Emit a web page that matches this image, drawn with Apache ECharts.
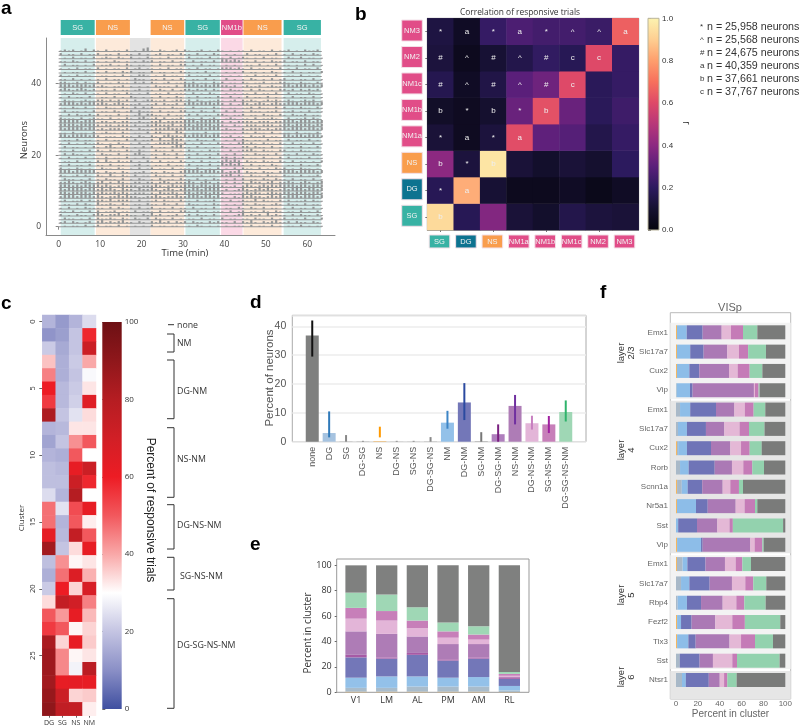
<!DOCTYPE html>
<html><head><meta charset="utf-8">
<style>html,body{margin:0;padding:0;background:#fff}#c{width:800px;height:727px}</style>
<script src="https://cdn.jsdelivr.net/npm/echarts@6/dist/echarts.min.js"></script>
</head><body><div id="c"></div>
<script>
/* ---------- panel a ---------- */
const blockStart=[0.5,9,17.2,22.2,30.6,39.2,44.6,54.3];
const blockEnd=[8.7,17.2,22.2,30.3,38.9,44.4,53.8,63.3];
const blockType=['SG','NS','','NS','SG','NM1b','NS','SG'];
/* estimated activity per minute for each neuron, top row (49) first */
const rasterRows=[
"121201302 10201102 01034 10210120 210120102 10101 1020110201 1201021120",
"201102011 20110201 10201 01201102 110201021 01010 0201101020 1020110210",
"010201102 01210210 20102 10102011 020110201 10201 2101020110 0210201101",
"110210201 10102101 01021 20110201 102011020 33232 1102010211 2011020110",
"020110102 01120102 10110 10201102 201020110 01010 0110201020 1101020201",
"101020110 20101102 01201 10102011 010201101 22212 1020110102 0102011020",
"010110201 10201021 20110 20110102 110102010 01010 2011010210 1020101102",
"201020110 01101020 10221 01020110 020110201 10101 0102011020 0110201010",
"110201010 10201101 02110 11020102 101102010 02010 1021010201 2010110201",
"221120211 20110211 02120 21012011 212011021 20110 2101120112 2110211021",
"333233323 12101120 10101 02111020 333323233 22120 1211201211 3323332323",
"232123212 01102011 01201 10210201 221212021 10211 1020210102 2120212120",
"010210201 10201102 10102 01102011 102010210 01010 1102011020 0201102101",
"102011020 01102010 21010 10201021 010201102 10201 0201102010 1020110201",
"021101211 22121212 02012 21120122 120210112 10120 2121012121 1210121201",
"233323233 23212321 11201 12021120 233233323 20201 3212321232 2333233323",
"110210201 10211021 02021 20110211 102011021 10110 1120211020 2010211021",
"020110102 01102101 20211 10201102 201021020 02020 1021101120 1120102011",
"102021121 20110201 01302 21102011 120201102 21011 2011021102 1021120110",
"211102012 11020102 10231 12020112 011020120 01210 1102011210 0201120210",
"333332333 12212122 11211 22312222 333233333 20212 2221222122 3332333233",
"333323333 21221222 12112 23222312 332333323 21021 1222122212 3323333233",
"323333233 12122212 10211 12223222 323332333 12110 2122212122 3233323323",
"110201102 01211021 01102 02211032 101102011 11010 2102110201 1102011020",
"332333323 20111021 10210 21023221 323333233 11201 1021120110 3323323332",
"011020110 10201102 02011 20311322 010211020 01020 2101102011 0201102010",
"102010211 21010210 10201 01222331 201020102 10102 3121021102 1020110201",
"020110102 10231021 01020 20110233 110201010 21010 2202110201 0110201020",
"110201020 21021102 10210 02110201 021010211 10201 2231021102 2010211010",
"020211011 02110201 02310 11021020 110201102 01020 1102111020 1102010211",
"102010201 10201102 01021 02011020 020110210 22121 2011020102 0201102011",
"011020110 20310211 20102 10201102 101020101 23232 0211021102 1020110102",
"102011020 11020110 01201 01102011 020110201 32323 1020110210 0110201020",
"201021010 02110210 10201 20110201 110210102 01020 2110201021 2010211010",
"333233333 10211021 01120 11021102 333323332 31223 0211021102 3332333323",
"210120210 21031021 02011 02110201 201120110 22312 1021102110 2110201120",
"021101020 10211020 10210 10201102 110201021 01020 2011021021 1020110201",
"223212321 23121321 12212 21232122 232123212 12021 2132212312 2321232123",
"333232333 32321232 22122 23212322 333233233 21120 2321232323 3332332333",
"323333233 23232132 21322 32123212 323323333 12012 3212323212 3233323323",
"332333323 23223232 12221 21322321 332333233 20111 2323212322 3323332332",
"233323332 32122323 22112 23212232 233323323 11021 3232212323 2333233323",
"120112021 22131222 10201 12021102 110201120 10201 2113021102 1201120211",
"011020210 31121021 01102 11021020 021101021 01010 2102110121 0211020110",
"102010211 11020210 10201 20110201 102011020 01102 1021020110 1020110201",
"110201020 20112011 02011 10201102 210201011 10201 2011021021 0110201020",
"201021102 32122312 11021 31201120 120211020 01012 3121203121 1020211021",
"021101020 21121021 02102 02110201 011020110 20110 1102110201 2011020102",
"120210120 23121231 10210 21312021 202110212 11020 2131021231 1202110210",
"010110201 20110201 01010 20110110 010210101 01011 1020110201 0110201011"
].map(s=>s.replace(/ /g,''));

/* ---------- panel b ---------- */
const bCats=['SG','DG','NS','NM1a','NM1b','NM1c','NM2','NM3'];
const bMatrix=[ /* bottom row first */
[.93,.18,.38,.12,.09,.16,.13,.12],
[.18,.83,.11,.05,.05,.07,.04,.07],
[.40,.13,.96,.12,.09,.12,.10,.20],
[.12,.06,.13,.61,.31,.29,.16,.22],
[.08,.06,.10,.33,.62,.33,.19,.24],
[.17,.07,.15,.30,.34,.60,.19,.22],
[.13,.05,.11,.16,.21,.18,.60,.22],
[.14,.07,.22,.27,.25,.25,.23,.66]];
const bMarks=[
['b','','','','','','',''],
['*','a','','','','','',''],
['b','*','b','','','','',''],
['*','a','*','a','','','',''],
['b','*','b','*','b','','',''],
['#','^','#','^','#','c','',''],
['#','^','#','^','#','c','c',''],
['*','a','*','a','*','^','^','a']];
const bCounts=['* n = 25,958 neurons','^ n = 25,568 neurons','# n = 24,675 neurons','a n = 40,359 neurons','b n = 37,661 neurons','c n = 37,767 neurons'];
const magma=['#05040c','#15102f','#2c1a5e','#5a1f7a','#8c2981','#b73779','#de4968','#f7705c','#fe9f6d','#fecf92','#fcf3b0'];

/* ---------- panel c ---------- */
const cCols=['DG','SG','NS','NM'];
const cValues=[
[17,12,17,24],[11,13,20,58],[21,15,20,72],[37,16,21,40],[45,16,20,29],
[60,18,21,33],[55,18,22,65],[82,20,25,34],[17,18,33,33],[14,20,43,50],
[17,16,50,30],[19,18,62,72],[19,19,72,58],[24,17,80,30],[47,25,52,62],
[47,17,50,32],[63,18,75,50],[85,20,34,62],[19,43,31,33],[16,47,66,39],
[21,60,35,68],[34,75,70,45],[50,42,62,38],[55,50,31,35],[83,35,62,36],
[86,44,31,33],[86,44,28,78],[85,62,63,62],[88,72,35,36],[90,76,75,32]];
const cScale=['#3f4fa0','#8a8fc6','#c4c4e2','#ffffff','#f9a8a8','#f2585d','#ed1c24','#d11f26','#b51d22','#8f171b','#6d1014'];

/* ---------- panel d ---------- */
const dCats=['none','DG','SG','DG-SG','NS','DG-NS','SG-NS','DG-SG-NS','NM','DG-NM','SG-NM','DG-SG-NM','NS-NM','DG-NS-NM','SG-NS-NM','DG-SG-NS-NM'];
const dMeans=[36.8,3,0.1,0.1,0.2,0.05,0.05,0.1,6.6,13.6,0.2,2.6,12.4,6.4,6,10.3];
const dLow=[29.5,1.5,0,0,1.5,0,0,0,4.5,7.5,0,0,6,4.2,3,7];
const dHigh=[42,10.5,2.3,0.3,5.2,0.3,0.3,1.6,10.7,20.3,3.3,6,16.2,9,8.9,14.3];
const dBarColors=['#7f807f','#a6c3e0','#aaaaaa','#aaaaaa','#f3b760','#aaaaaa','#aaaaaa','#aaaaaa','#93c1e9','#7377b8','#aaaaaa','#af7fbd','#ae7cb6','#e3b5d8','#c77fb9','#9fd7b5'];
const dErrColors=['#111111','#2f79b9','#888888','#888888','#ff9900','#888888','#888888','#888888','#3d85c6','#2b4aa0','#777777','#7a1f80','#7030a0','#c77fc0','#a020a0','#2fb36b'];

/* ---------- panel e ---------- */
const eCats=['V1','LM','AL','PM','AM','RL'];
const eNS=[.5,.5,.5,.5,.5,.2];
const eDG=[3,3,4,4,4,1.3];
const eNM=[8,9,8,7,7.5,3.5];
const eDGNM=[16,14,17,13.5,14.5,5.5];
const eDGSGNM=[2,1,1.5,1,1,.7];
const eNSNM=[18.5,18.5,13,12,10.5,.8];
const eDGNSNM=[10,10.5,6.5,5,3.5,1];
const eSGNSNM=[8.5,7.5,6,5,4,1.5];
const eALL=[12,13,10.5,7,6.5,1.5];
const eNone=[21.5,23,33,45,48,84];
const eColors=['#e8b56a','#a9bccb','#93c1e9','#7377b8','#a75aa5','#ae7cb6','#e3b5d8','#c77fb9','#9fd7b5','#7f807f'];

/* ---------- panel f ---------- */
const fCats=['Emx1','Slc17a7','Cux2','Vip','Emx1','Slc17a7','Cux2','Rorb','Scnn1a','Nr5a1','Sst','Vip','Emx1','Slc17a7','Rbp4','Fezf2','Tlx3','Sst','Ntsr1'];
const fNS=[.9,.9,.9,.3,0,0,.9,0,1,.9,0,1,.9,0,0,1,1,0,0];
const fDG=[0,0,0,0,3.7,1.8,1.1,3.7,4.2,0,0,0,5.1,4.6,1.5,0,0,3.4,5.5];
const fNM=[8.9,12.1,11.3,12.5,9.3,8.2,8,7.9,5.5,17.4,2,21.9,4.4,7.6,8.5,3.6,10.3,0,3.5];
const fDGNM=[14.6,12.3,9.1,2.4,23.6,17.4,22,23.8,13.3,10.7,17.2,1.5,16.6,18.6,12.9,9.7,6.7,18.2,21];
const fNSNM=[17.4,21.7,27.2,56.1,16.8,16.8,17.7,15.8,18.7,25.6,18.6,43.6,17.8,20.4,19.8,21.7,31,12.2,10];
const fDGNSNM=[8.5,10.6,7.9,1,9.6,14,9.8,10.4,7,8.2,11.2,4,9.8,12.2,12.5,15.5,10.5,17.7,4];
const fSGNSNM=[11,8.4,11,3.3,8,8.6,7.9,8.2,7.9,9.5,3,7,6.1,7.3,7.3,11.5,12.8,4.3,3];
const fALL=[13.1,16.3,11.6,.9,10.7,14.2,11,10.7,3.7,2.1,46,1.2,7.9,11.9,19.5,32.4,16.4,39,8.5];
const fNone=[25.6,17.7,21,23.5,18.3,19,21.6,19.5,38.7,25.6,2,19.8,31.4,17.4,18,4.6,11.3,5.2,44.5];
const fColors=['#f3b760','#a9b9c8','#8dbde8','#6f74b7','#ab79b5','#e4b8d6','#c57bb7','#93d2ae','#7a7b7a'];
const fBands=[[0,3.95,'#f3f3f3'],[4.05,11.95,'#e6e6e6'],[12.05,17.95,'#f3f3f3'],[18.05,19.6,'#e6e6e6']];

const typeColor={SG:'#38b2a4',DG:'#0d7390',NS:'#f99d4d',NM1a:'#e14d88',NM1b:'#e14d88',NM1c:'#e14d88',NM2:'#e14d88',NM3:'#e14d88'};
const shadeColor={SG:'#d6eeec',NS:'#fdeada','':'#e3e3e3',NM1b:'#fbd9e6'};

const OS='"Open Sans",sans-serif', LS='"Liberation Sans",Arial,sans-serif';
const grids=[],xAxes=[],yAxes=[],series=[];
function G(l,t,r,b,x,y,extra){
  grids.push(Object.assign({left:l,top:t,width:r-l,height:b-t,containLabel:false},extra||{}));
  const i=grids.length-1;
  xAxes.push(Object.assign({gridIndex:i,show:true},x));
  yAxes.push(Object.assign({gridIndex:i,show:true},y));
  return i;
}
const hiddenVal=(min,max,o)=>Object.assign({type:'value',min,max,axisLine:{show:false},axisTick:{show:false},axisLabel:{show:false},splitLine:{show:false}},o||{});

/* panel a grids */
const aLine={show:true,onZero:false,lineStyle:{color:'#8a8a8a',width:1}};
const aMain=G(46,38,335,235,hiddenVal(-3.05,66.7,{axisLine:aLine}),hiddenVal(-2.3,52.8,{axisLine:aLine}));
G(58.7,83.7,307.3,226.7,
  {type:'value',min:0,max:60,interval:10,offset:8.3,axisLine:{show:false},axisTick:{length:3,lineStyle:{color:'#888'}},axisLabel:{fontFamily:OS,fontSize:8.5,color:'#444',margin:5},splitLine:{show:false}},
  {type:'value',min:0,max:40,interval:20,offset:12.7,axisLine:{show:false},axisTick:{length:3,lineStyle:{color:'#888'}},axisLabel:{fontFamily:OS,fontSize:8.5,color:'#444',margin:5},splitLine:{show:false}});
const aHead=G(46,20,335,35,hiddenVal(-3.05,66.7),hiddenVal(0,1));
const blocks=blockStart.map((s,i)=>[s,blockEnd[i],blockType[i]]);
series.push({type:'custom',xAxisIndex:aMain,yAxisIndex:aMain,silent:true,data:blocks,z:1,
  renderItem(p,api){const cs=p.coordSys,a=api.coord([api.value(0),0])[0],b=api.coord([api.value(1),0])[0];
    return {type:'rect',shape:{x:a,y:cs.y,width:b-a,height:cs.height},style:{fill:shadeColor[blocks[p.dataIndex][2]]}};}});
series.push({type:'custom',xAxisIndex:aMain,yAxisIndex:aMain,silent:true,z:2,
  data:rasterRows.map((s,i)=>[0,63.5,49-i]),
  renderItem(p,api){const a=api.coord([api.value(0),api.value(2)]),b=api.coord([api.value(1),api.value(2)]);
    return {type:'rect',shape:{x:a[0],y:a[1]-0.5,width:b[0]-a[0],height:1},style:{fill:'#939596'}};}});
const spikes=[];
rasterRows.forEach((s,i)=>{for(let k=0;k<s.length;k++){const h=+s[k];if(h>0)spikes.push([k+0.5,49-i,h]);}});
series.push({type:'custom',xAxisIndex:aMain,yAxisIndex:aMain,silent:true,z:2,data:spikes,
  renderItem(p,api){const a=api.coord([api.value(0),api.value(1)]),h=api.size([0,api.value(2)*0.29])[1];
    return {type:'rect',shape:{x:a[0]-1.1,y:a[1]-h,width:2.2,height:h},style:{fill:'#939596'}};}});
const heads=blocks.filter(b=>b[2]);
series.push({type:'custom',xAxisIndex:aHead,yAxisIndex:aHead,silent:true,data:heads,
  renderItem(p,api){const cs=p.coordSys,a=api.coord([api.value(0),0])[0],b=api.coord([api.value(1),0])[0],t=heads[p.dataIndex][2];
    return {type:'group',children:[{type:'rect',shape:{x:a,y:cs.y,width:b-a,height:cs.height},style:{fill:typeColor[t]}},
      {type:'text',style:{x:(a+b)/2,y:cs.y+cs.height/2,text:t,fill:'#f4f4f4',font:'7.5px '+LS,align:'center',verticalAlign:'middle'}}]};}});

/* panel b */
const tb=(o)=>Object.assign({type:'category',boundaryGap:true,axisLine:{show:true,onZero:false,lineStyle:{color:'#999',width:1}},axisTick:{show:true,alignWithLabel:true,length:2,lineStyle:{color:'#777'}},axisLabel:{show:false},splitLine:{show:false}},o);
const bGrid=G(427.3,18.3,638.7,230,tb({data:bCats}),tb({data:bCats}),{show:true,borderColor:'#999',borderWidth:1});
const bData=[];bMatrix.forEach((r,j)=>r.forEach((v,i)=>bData.push([i,j,v,bMarks[j][i]])));
series.push({type:'heatmap',xAxisIndex:bGrid,yAxisIndex:bGrid,data:bData,silent:true,
  label:{show:true,formatter:p=>p.data[3],color:'#eeeeee',fontSize:8,fontFamily:LS},itemStyle:{borderWidth:0}});
const boxSeries=(gi,dataArr,side)=>({type:'custom',xAxisIndex:gi,yAxisIndex:gi,silent:true,data:dataArr.map((c,i)=>[i]),z:5,
  renderItem(p,api){const i=api.value(0),t=dataArr[i];let x,y,w=20.6,h=side==='left'?21:13;
    if(side==='left'){const c=api.coord([0,i]);x=c[0]-13.2-5-w;y=c[1]-h/2-1;}
    else{const c=api.coord([i,0]);x=c[0]-w/2-1;y=c[1]+13.2+5;}
    return {type:'group',children:[{type:'rect',shape:{x,y,width:w,height:h},style:{fill:typeColor[t],stroke:'#f3dfe7',lineWidth:1}},
      {type:'text',style:{x:x+w/2,y:y+h/2,text:t,fill:'#f2f2f2',font:'7.5px '+LS,align:'center',verticalAlign:'middle'}}]};}});
series.push(boxSeries(bGrid,bCats,'left'),boxSeries(bGrid,bCats,'bottom'));
const grad=(stops)=>new echarts.graphic.LinearGradient(0,1,0,0,stops.map((c,i)=>({offset:i/(stops.length-1),color:c})));
function colorbar(l,t,r,b,max,interval,stops,fmt,font,size,col,bord){
  const g=G(l,t,r,b,hiddenVal(0,1),{type:'value',position:'right',min:0,max,interval,axisLine:{show:false},axisTick:{show:true,length:3,lineStyle:{color:'#666'}},axisLabel:{fontFamily:font,fontSize:size,color:col,margin:3,formatter:fmt},splitLine:{show:false}});
  series.push({type:'custom',xAxisIndex:g,yAxisIndex:g,silent:true,data:[[0]],
    renderItem(p){const c=p.coordSys;return {type:'rect',shape:{x:c.x,y:c.y,width:c.width,height:c.height},style:{fill:grad(stops),stroke:bord,lineWidth:bord?1:0}};}});
}
colorbar(648,18.3,659,230,1,.2,magma,v=>v.toFixed(1),LS,8,'#333','#b9b49b');

/* panel c */
const cGrid=G(42.3,315,96,715.7,
  {type:'category',data:cCols,axisLine:{show:false},axisTick:{show:true,length:2,alignWithLabel:true,interval:0,lineStyle:{color:'#666'}},axisLabel:{fontFamily:OS,fontSize:7,color:'#333',margin:4,interval:0},splitLine:{show:false}},
  {type:'category',inverse:true,data:cValues.map((r,i)=>String(i)),axisLine:{show:false},axisTick:{show:true,length:3,alignWithLabel:true,interval:4,lineStyle:{color:'#666'}},axisLabel:{fontFamily:OS,fontSize:7.5,color:'#333',margin:5,rotate:90,interval:4},splitLine:{show:false}});
const cData=[];cValues.forEach((r,j)=>r.forEach((v,i)=>cData.push([i,j,v])));
series.push({type:'heatmap',xAxisIndex:cGrid,yAxisIndex:cGrid,data:cData,silent:true});
colorbar(102.3,322,121.7,709,100,20,cScale,v=>String(v),OS,8,'#333',null);

/* panel d */
const dBg=G(292.3,315.3,586,441.7,hiddenVal(0,1),
  {type:'value',min:0,max:43.8,interval:10,axisLine:{show:false},axisTick:{show:false},
   axisLabel:{fontFamily:LS,fontSize:10.5,color:'#555',margin:6,formatter:v=>v%10===0?String(v):''},
   splitLine:{show:true,lineStyle:{color:'#ececec',width:1.5}}},{show:true,borderColor:'#aaa',borderWidth:1});
const dFg=G(303.8,315.3,574.2,441.7,
  {type:'category',data:dCats,axisLine:{show:false},axisTick:{show:false},axisLabel:{interval:0,rotate:90,fontFamily:LS,fontSize:9,color:'#555',margin:5},splitLine:{show:false}},
  hiddenVal(0,43.8));
series.push({type:'bar',xAxisIndex:dFg,yAxisIndex:dFg,barWidth:13,silent:true,z:3,
  data:dMeans.map((v,i)=>({value:v,itemStyle:{color:dBarColors[i]}}))});
series.push({type:'custom',xAxisIndex:dFg,yAxisIndex:dFg,silent:true,z:4,
  data:dLow.map((v,i)=>[i,v,dHigh[i]]),
  renderItem(p,api){const i=api.value(0),a=api.coord([i,api.value(1)]),b=api.coord([i,api.value(2)]);
    return {type:'line',shape:{x1:a[0],y1:a[1],x2:b[0],y2:b[1]},style:{stroke:dErrColors[i],lineWidth:2}};}});

/* panel e */
const eBg=G(336.7,559,529,692.3,hiddenVal(0,1),
  {type:'value',min:0,max:105,interval:20,axisLine:{show:false},axisTick:{show:true,length:2,lineStyle:{color:'#666'},customValues:[0,20,40,60,80,100]},
   axisLabel:{fontFamily:OS,fontSize:9,color:'#333',margin:5,customValues:[0,20,40,60,80,100],formatter:v=>v%20===0?String(v):''},splitLine:{show:false}},{show:true,borderColor:'#999',borderWidth:1});
const eFg=G(340.7,559,524.7,692.3,
  {type:'category',data:eCats,axisLine:{show:false},axisTick:{show:false},axisLabel:{fontFamily:OS,fontSize:9,color:'#333',margin:4},splitLine:{show:false}},
  hiddenVal(0,105));
[eNS,eDG,eNM,eDGNM,eDGSGNM,eNSNM,eDGNSNM,eSGNSNM,eALL,eNone].forEach((d,k)=>series.push({type:'bar',stack:'e',xAxisIndex:eFg,yAxisIndex:eFg,barWidth:21.3,silent:true,data:d,itemStyle:{color:eColors[k]}}));

/* panel f */
const fBg=G(670.3,312.7,790.7,699,hiddenVal(0,1),hiddenVal(-0.516,19.5,{inverse:true}),{show:true,borderColor:'#bbb',borderWidth:1});
series.push({type:'custom',xAxisIndex:fBg,yAxisIndex:fBg,silent:true,z:1,data:fBands.map(b=>[b[0],b[1]]),
  renderItem(p,api){const c=p.coordSys,a=api.coord([0,api.value(0)])[1],b=Math.min(api.coord([0,api.value(1)])[1],c.y+c.height);
    return {type:'rect',shape:{x:c.x,y:a,width:c.width,height:b-a},style:{fill:fBands[p.dataIndex][2]}};}});
const fFg=G(676,322.65,785.3,689.65,
  {type:'value',min:0,max:100,interval:20,offset:9.35,axisLine:{show:false},axisTick:{show:false},axisLabel:{fontFamily:LS,fontSize:8,color:'#666',margin:1},splitLine:{show:false}},
  {type:'category',inverse:true,data:fCats,axisLine:{show:false},axisTick:{show:false},axisLabel:{interval:0,fontFamily:LS,fontSize:8,color:'#666',margin:8},splitLine:{show:false}});
[fNS,fDG,fNM,fDGNM,fNSNM,fDGNSNM,fSGNSNM,fALL,fNone].forEach((d,k)=>series.push({type:'bar',stack:'f',xAxisIndex:fFg,yAxisIndex:fFg,barWidth:14,silent:true,z:3,data:d,itemStyle:{color:fColors[k]}}));

/* text and annotations */
const T=(x,y,text,o)=>Object.assign({type:'text',x,y,style:Object.assign({text,fill:'#333',font:'10px '+LS,textAlign:'left',textVerticalAlign:'middle'},o||{})});
const R=(x,y,text,o,rot)=>({type:'text',x,y,rotation:rot,style:Object.assign({text,fill:'#333',font:'10px '+LS,textAlign:'center',textVerticalAlign:'middle'},o||{})});
const panelFont='bold 19px '+LS;
const gfx=[
 T(1,9,'a',{font:panelFont,fill:'#000'}),T(355,15,'b',{font:panelFont,fill:'#000'}),T(1,304,'c',{font:panelFont,fill:'#000'}),
 T(250,303,'d',{font:panelFont,fill:'#000'}),T(250,545,'e',{font:panelFont,fill:'#000'}),T(600,293,'f',{font:panelFont,fill:'#000'}),
 T(185,253,'Time (min)',{font:'9.5px '+OS,textAlign:'center'}),
 R(24,140,'Neurons',{font:'9.5px '+OS},Math.PI/2),
 T(520,12.5,'Correlation of responsive trials',{font:'8.4px '+OS,textAlign:'center'}),
 R(686,123,'r',{font:'10px '+LS},-Math.PI/2),
 R(22,518,'Cluster',{font:'8px '+OS},Math.PI/2),
 R(150,510,'Percent of responsive trials',{font:'12px '+LS,fill:'#222'},-Math.PI/2),
 R(270,378,'Percent of neurons',{font:'11.5px '+LS,fill:'#555'},Math.PI/2),
 R(308,633,'Percent in cluster',{font:'10px '+OS},Math.PI/2),
 T(730,308,'VISp',{font:'11px '+LS,fill:'#666',textAlign:'center'}),
 T(730.5,714,'Percent in cluster',{font:'10px '+LS,fill:'#666',textAlign:'center'}),
 R(626,353,'layer\n2/3',{font:'9.5px '+LS,fill:'#333',textLineHeight:10},Math.PI/2),
 R(626,450,'layer\n4',{font:'9.5px '+LS,fill:'#333',textLineHeight:10},Math.PI/2),
 R(626,595,'layer\n5',{font:'9.5px '+LS,fill:'#333',textLineHeight:10},Math.PI/2),
 R(626,677,'layer\n6',{font:'9.5px '+LS,fill:'#333',textLineHeight:10},Math.PI/2)
];
bCounts.forEach((s,i)=>{const y=27+i*12.95;
  gfx.push(T(700,y,s[0],{font:'8px '+LS,fill:'#333'}));
  gfx.push(T(707,y,s.slice(2),{font:'10.7px '+LS,fill:'#333'}));});
const brackets=[[334,352,343,'NM',177],[360,418.7,391,'DG-NM',177],[427.7,497.3,459,'NS-NM',177],[504.7,549,525,'DG-NS-NM',177],[557.3,590,576.7,'SG-NS-NM',180],[598.7,708.3,645,'DG-SG-NS-NM',177]];
gfx.push({type:'line',shape:{x1:168,y1:324.7,x2:174,y2:324.7},style:{stroke:'#333',lineWidth:1}});
gfx.push(T(177,325,'none',{font:'8.8px '+OS}));
brackets.forEach(b=>{gfx.push({type:'polyline',shape:{points:[[167,b[0]],[174,b[0]],[174,b[1]],[167,b[1]]]},style:{stroke:'#333',lineWidth:1,fill:null}});
  gfx.push(T(b[4],b[2],b[3],{font:'8.8px '+OS}));});

const chart=echarts.init(document.getElementById('c'),null,{renderer:'canvas'});
chart.setOption({animation:false,backgroundColor:'#fff',tooltip:{show:false},
 grid:grids,xAxis:xAxes,yAxis:yAxes,series,graphic:gfx,
 visualMap:[
  {show:false,type:'continuous',seriesIndex:series.findIndex(s=>s.type==='heatmap'),min:0,max:1,dimension:2,inRange:{color:magma}},
  {show:false,type:'continuous',seriesIndex:series.map((s,i)=>s.type==='heatmap'?i:-1).filter(i=>i>=0)[1],min:0,max:100,dimension:2,inRange:{color:cScale}}
 ]});
</script></body></html>
